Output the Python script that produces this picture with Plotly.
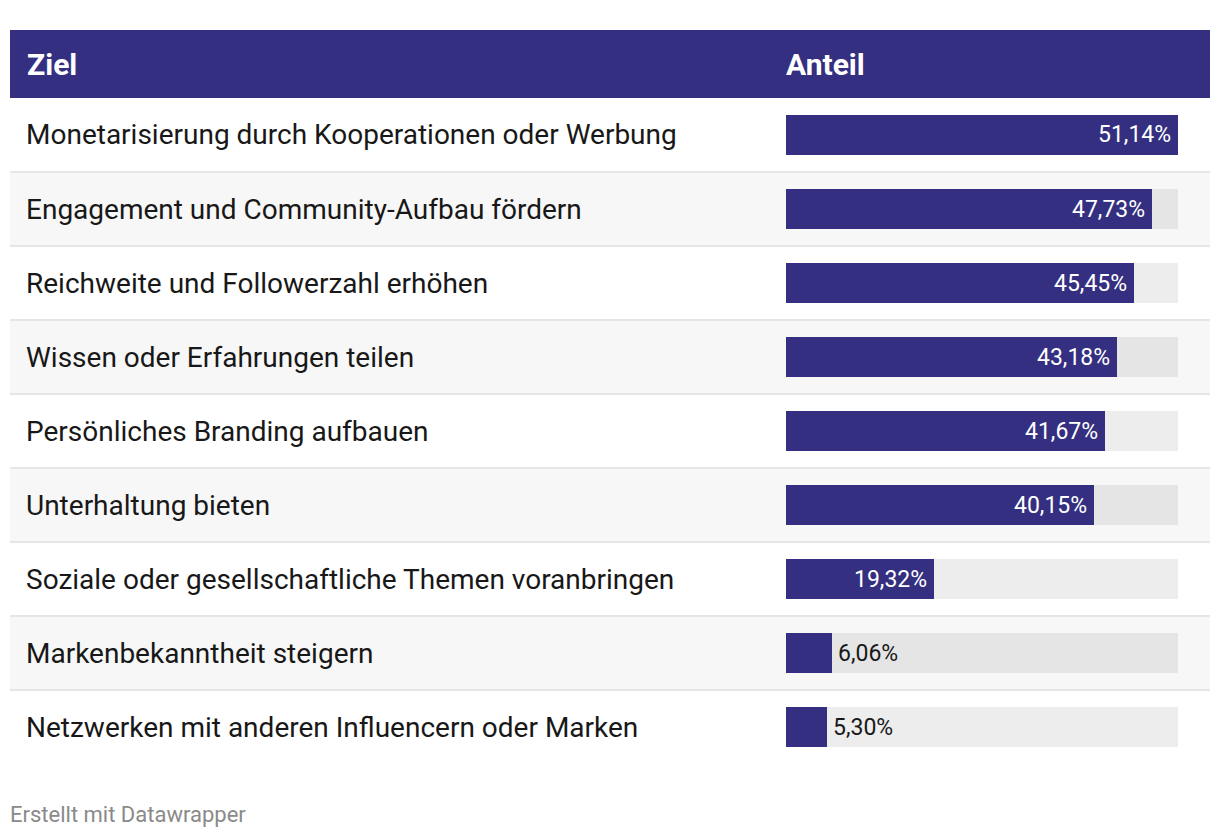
import plotly.graph_objects as go

categories = [
    "Monetarisierung durch Kooperationen oder Werbung",
    "Engagement und Community-Aufbau fördern",
    "Reichweite und Followerzahl erhöhen",
    "Wissen oder Erfahrungen teilen",
    "Persönliches Branding aufbauen",
    "Unterhaltung bieten",
    "Soziale oder gesellschaftliche Themen voranbringen",
    "Markenbekanntheit steigern",
    "Netzwerken mit anderen Influencern oder Marken",
]
values = [51.14, 47.73, 45.45, 43.18, 41.67, 40.15, 19.32, 6.06, 5.30]
value_labels = ["51,14%", "47,73%", "45,45%", "43,18%", "41,67%", "40,15%", "19,32%", "6,06%", "5,30%"]
header_labels = ["Ziel", "Anteil"]
footer_text = "Erstellt mit Datawrapper"

# page has an 8px body margin; figure is sized so it fits the 1220x838 window
OFF = 8
W, H = 1220 - 2 * OFF, 838 - 2 * OFF
FONT = "Roboto"
PURPLE = "#342f80"

def px(x):
    return (x - OFF) / W

def py(y):
    return 1 - (y - OFF) / H

n = len(categories)
vmax = max(values)
ypos = list(range(n))

fig = go.Figure()

# background (track) bars
fig.add_trace(go.Bar(
    x=[vmax] * n, y=ypos, orientation="h", width=40 / 74,
    marker=dict(color="rgba(0,0,0,0.07)", line=dict(width=0)),
    hoverinfo="skip", showlegend=False,
))
# value bars
fig.add_trace(go.Bar(
    x=values, y=ypos, orientation="h", width=40 / 74,
    marker=dict(color=PURPLE, line=dict(width=0)),
    hoverinfo="skip", showlegend=False,
))

shapes = []
# header
shapes.append(dict(type="rect", xref="paper", yref="paper",
                   x0=px(10), x1=px(1210), y0=py(98), y1=py(30),
                   fillcolor=PURPLE, line=dict(width=0), layer="below"))
for i in range(n):
    if i % 2 == 1:
        shapes.append(dict(type="rect", xref="paper", yref="y",
                           x0=px(10), x1=px(1210), y0=i - 0.5, y1=i + 0.5,
                           fillcolor="#f7f7f7", line=dict(width=0), layer="below"))
for i in range(n - 1):
    shapes.append(dict(type="line", xref="paper", yref="y",
                       x0=px(10), x1=px(1210), y0=i + 0.5, y1=i + 0.5,
                       line=dict(color="#e6e6e6", width=2), layer="below"))

annotations = []
# header labels
annotations.append(dict(text="<b>" + header_labels[0] + "</b>", xref="paper", yref="paper",
                        x=px(25), y=py(64), xanchor="left", yanchor="middle", showarrow=False,
                        font=dict(family=FONT, size=30, color="white")))
annotations.append(dict(text="<b>" + header_labels[1] + "</b>", xref="paper", yref="paper",
                        x=px(784), y=py(64), xanchor="left", yanchor="middle", showarrow=False,
                        font=dict(family=FONT, size=30, color="white")))
# category labels and values
for i, (c, v, lab) in enumerate(zip(categories, values, value_labels)):
    annotations.append(dict(text=c, xref="paper", yref="y", x=px(24), y=i,
                            xanchor="left", yanchor="middle", showarrow=False,
                            font=dict(family=FONT, size=28, color="#181818")))
    if v > 12:
        annotations.append(dict(text=lab, xref="x", yref="y", x=v, y=i,
                                xanchor="right", yanchor="middle", xshift=-5, showarrow=False,
                                font=dict(family=FONT, size=23, color="white")))
    else:
        annotations.append(dict(text=lab, xref="x", yref="y", x=v, y=i,
                                xanchor="left", yanchor="middle", xshift=4, showarrow=False,
                                font=dict(family=FONT, size=23, color="#181818")))
annotations.append(dict(text=footer_text, xref="paper", yref="paper", x=px(8), y=py(814),
                        xanchor="left", yanchor="middle", showarrow=False,
                        font=dict(family=FONT, size=22, color="#8a8a8a")))

fig.update_layout(
    width=W, height=H, margin=dict(l=0, r=0, t=0, b=0),
    paper_bgcolor="white", plot_bgcolor="rgba(0,0,0,0)",
    barmode="overlay", bargap=0,
    shapes=shapes, annotations=annotations,
    xaxis=dict(domain=[px(786), px(1178)], range=[0, vmax], visible=False, fixedrange=True),
    yaxis=dict(domain=[py(98 + 74 * n), py(98)], range=[n - 0.5, -0.5], visible=False, fixedrange=True),
    font=dict(family=FONT),
)

fig.write_html("out.html", config={"displayModeBar": False})
